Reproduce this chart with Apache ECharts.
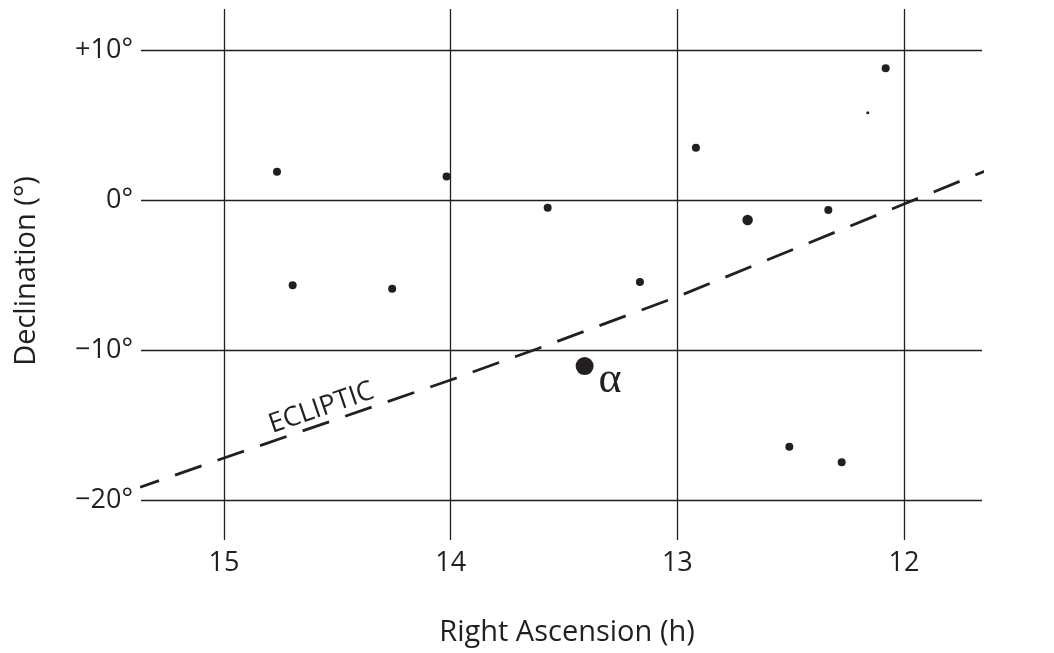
<!DOCTYPE html>
<html>
<head>
<meta charset="utf-8">
<script src="https://cdn.jsdelivr.net/npm/echarts@6/dist/echarts.min.js"></script>
<style>
  html, body { margin: 0; padding: 0; background: #ffffff; }
  #chart { width: 1054px; height: 653px; }
</style>
</head>
<body>
<div id="chart"></div>
<script>
// ---- data ----
const xTicks = [15, 14, 13, 12];          // Right Ascension (h)
const yTicks = [10, 0, -10, -20];         // Declination (deg)

// stars as [RA (h), Dec (deg)]
const stars = [
  [14.766, 1.89], [14.018, 1.57], [14.697, -5.69], [14.258, -5.91],
  [13.572, -0.51], [13.165, -5.47], [12.918, 3.49], [12.334, -0.67],
  [12.081, 8.78], [12.506, -16.45], [12.275, -17.49]
];
const brightStar = [[12.690, -1.33]];
const faintStar = [[12.160, 5.82]];
const alphaStar = [[13.409, -11.07]];

// ecliptic as [RA (h), Dec (deg)]
const ecliptic = [
  [15.37, -19.15], [15.0, -17.2], [14.0, -12.0], [13.62, -9.93],
  [13.0, -6.45], [12.0, -0.27], [11.34, 3.8]
];
const eclipticLabelAt = [[14.57, -13.87]];

// ---- chart ----
const INK = '#231f20';
const FONT = '"Open Sans", "Noto Sans", sans-serif';
const SERIF = '"Liberation Serif", "DejaVu Serif", serif';

function decLabel(v) {
  if (v > 0) return '+' + v + '°';
  if (v < 0) return '\u2212' + Math.abs(v) + '°';
  return '0°';
}

const chart = echarts.init(document.getElementById('chart'), null, { renderer: 'canvas' });
chart.setOption({
  animation: false,
  backgroundColor: '#ffffff',
  textStyle: { fontFamily: FONT, color: INK },
  grid: { left: 141, right: 72, top: 9, bottom: 113, containLabel: false, outerBoundsMode: 'none' },
  xAxis: {
    type: 'value',
    inverse: true,
    min: 11.656,
    max: 15.366,
    axisLine: { show: false },
    axisTick: { show: false },
    splitLine: { show: false },
    axisLabel: {
      customValues: xTicks,
      formatter: v => String(v),
      fontFamily: FONT, fontSize: 27, color: INK, margin: 10
    },
    name: 'Right Ascension (h)',
    nameLocation: 'middle',
    nameGap: 78,
    nameTextStyle: { fontFamily: FONT, fontSize: 29, color: INK, padding: [0, 0, 0, 11] }
  },
  yAxis: {
    type: 'value',
    min: -22.667,
    max: 12.733,
    axisLine: { show: false },
    axisTick: { show: false },
    splitLine: { show: false },
    axisLabel: {
      customValues: yTicks,
      formatter: decLabel,
      fontFamily: FONT, fontSize: 27, color: INK, margin: 8
    },
    name: 'Declination (°)',
    nameLocation: 'middle',
    nameGap: 100,
    nameTextStyle: { fontFamily: FONT, fontSize: 29, color: INK, padding: [0, 0, 0, 7] }
  },
  series: [
    {
      name: 'grid',
      type: 'line',
      data: [],
      silent: true,
      markLine: {
        silent: true,
        symbol: 'none',
        label: { show: false },
        lineStyle: { type: 'solid', width: 1.3, color: INK, opacity: 1 },
        data: xTicks.map(v => ({ xAxis: v })).concat(yTicks.map(v => ({ yAxis: v })))
      }
    },
    {
      name: 'Ecliptic',
      type: 'line',
      data: ecliptic,
      showSymbol: false,
      symbol: 'none',
      clip: false,
      silent: true,
      z: 3,
      lineStyle: { color: INK, width: 2.8, type: [28, 17], dashOffset: 8, cap: 'butt', opacity: 1 }
    },
    {
      name: 'EclipticLabel',
      type: 'scatter',
      data: eclipticLabelAt,
      symbolSize: 0,
      silent: true,
      itemStyle: { color: INK, opacity: 1 },
      label: {
        show: true, formatter: 'ECLIPTIC', position: 'inside', rotate: 19,
        fontFamily: FONT, fontSize: 27, color: INK
      }
    },
    {
      name: 'Stars', type: 'scatter', data: stars, symbolSize: 8, z: 5,
      itemStyle: { color: INK, opacity: 1 }
    },
    {
      name: 'Bright', type: 'scatter', data: brightStar, symbolSize: 10.5, z: 5,
      itemStyle: { color: INK, opacity: 1 }
    },
    {
      name: 'Faint', type: 'scatter', data: faintStar, symbolSize: 3, z: 5,
      itemStyle: { color: INK, opacity: 1 }
    },
    {
      name: 'Alpha', type: 'scatter', data: alphaStar, symbolSize: 18, z: 5,
      itemStyle: { color: INK, opacity: 1 },
      label: {
        show: true, formatter: 'α', position: 'right', distance: 5, offset: [0, 14],
        fontFamily: SERIF, fontSize: 44, color: INK
      }
    }
  ]
});
</script>
</body>
</html>
